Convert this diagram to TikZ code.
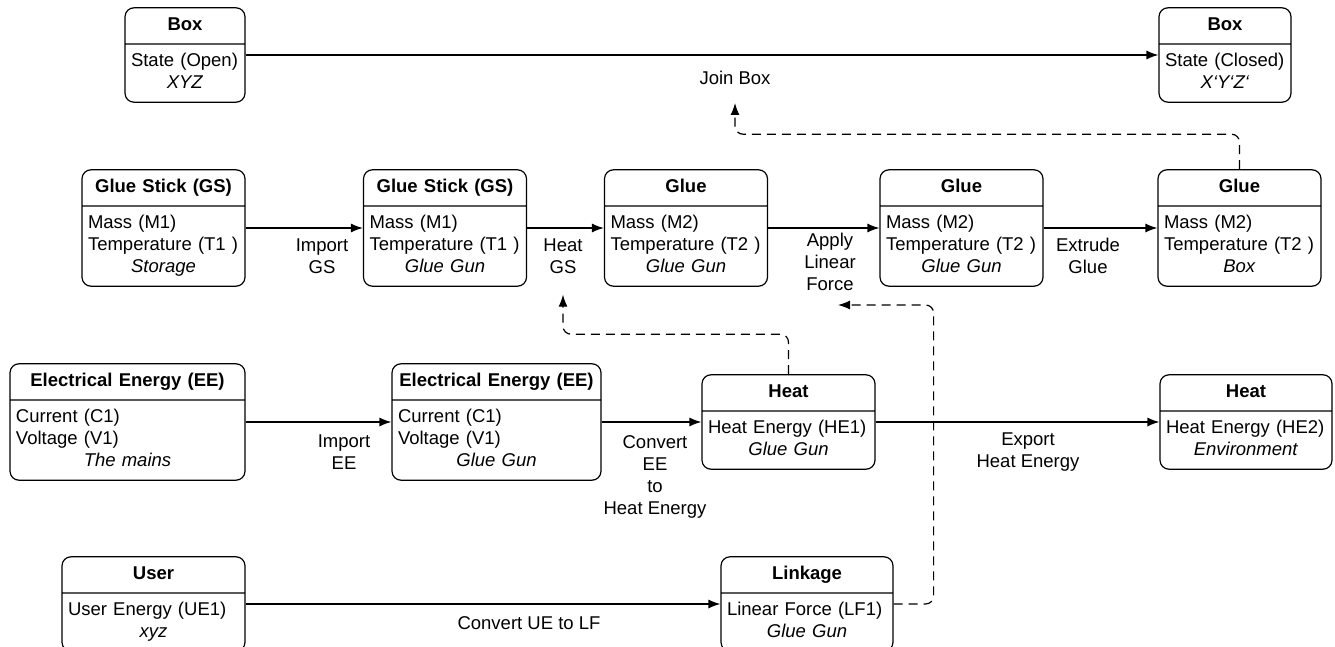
\documentclass[tikz,border=0pt]{standalone}
\usepackage{fontspec}
\setmainfont{Liberation Sans}
\usetikzlibrary{shapes.multipart,arrows.meta}
\newcommand{\stname}[1]{\hfill\strut\textbf{#1}\hfill\null}
\newcommand{\stwhere}[1]{\hfill\strut\textit{#1}\hfill\null}

\begin{document}
\begin{tikzpicture}[x=1pt,y=-1pt,>={Latex[length=12pt,width=9pt]},
  statebox/.style={draw, rectangle split, rectangle split parts=2, rounded corners=9pt, line width=1.2pt, align=left, inner xsep=6pt, inner ysep=6.5pt, font=\fontsize{18.5}{22}\selectfont},
  fnlabel/.style={align=center, inner sep=0pt, font=\fontsize{18.5}{22}\selectfont},
  flow/.style={->, line width=1.2pt},
  cue/.style={->, line width=1.2pt, dash pattern=on 9pt off 6pt, rounded corners=8pt}]
\useasboundingbox (0,0) rectangle (1335,647);

\node[statebox, text width=108pt] (box1) at (185,55) {\stname{Box}\nodepart{two}\strut State (Open)\\\stwhere{XYZ}};
\node[statebox, text width=120pt] (box2) at (1225,55) {\stname{Box}\nodepart{two}\strut State (Closed)\\\stwhere{X`Y`Z`}};

\node[statebox, text width=151pt] (gs1) at (163.5,228) {\stname{Glue Stick (GS)}\nodepart{two}\strut Mass (M1)\\Temperature (T1 )\\\stwhere{Storage}};
\node[statebox, text width=151pt] (gs2) at (445,228) {\stname{Glue Stick (GS)}\nodepart{two}\strut Mass (M1)\\Temperature (T1 )\\\stwhere{Glue Gun}};
\node[statebox, text width=151pt] (glue1) at (686,228) {\stname{Glue}\nodepart{two}\strut Mass (M2)\\Temperature (T2 )\\\stwhere{Glue Gun}};
\node[statebox, text width=151pt] (glue2) at (961.5,228) {\stname{Glue}\nodepart{two}\strut Mass (M2)\\Temperature (T2 )\\\stwhere{Glue Gun}};
\node[statebox, text width=151pt] (glue3) at (1239.5,228) {\stname{Glue}\nodepart{two}\strut Mass (M2)\\Temperature (T2 )\\\stwhere{Box}};

\node[statebox, text width=223pt] (ee1) at (127.5,422) {\stname{Electrical Energy (EE)}\nodepart{two}\strut Current (C1)\\Voltage (V1)\\\stwhere{The mains}};
\node[statebox, text width=197pt] (ee2) at (496.5,422) {\stname{Electrical Energy (EE)}\nodepart{two}\strut Current (C1)\\Voltage (V1)\\\stwhere{Glue Gun}};
\node[statebox, text width=161pt] (heat1) at (788.5,422) {\stname{Heat}\nodepart{two}\strut Heat Energy (HE1)\\\stwhere{Glue Gun}};
\node[statebox, text width=160pt] (heat2) at (1246,422) {\stname{Heat}\nodepart{two}\strut Heat Energy (HE2)\\\stwhere{Environment}};

\node[statebox, text width=171pt] (user) at (153.5,604) {\stname{User}\nodepart{two}\strut User Energy (UE1)\\\stwhere{xyz}};
\node[statebox, text width=160pt] (linkage) at (807,604) {\stname{Linkage}\nodepart{two}\strut Linear Force (LF1)\\\stwhere{Glue Gun}};

\node[fnlabel] (join) at (735,78) {Join Box};
\node[fnlabel] (importgs) at (322,256) {Import\\GS};
\node[fnlabel] (heatgs) at (563,256) {Heat\\GS};
\node[fnlabel] (apply) at (830,262) {Apply\\Linear\\Force};
\node[fnlabel] (extrude) at (1088,256) {Extrude\\Glue};
\node[fnlabel] (importee) at (344,452) {Import\\EE};
\node[fnlabel] (convee) at (655,477) {Convert\\EE\\to\\Heat Energy};
\node[fnlabel] (export) at (1028,452) {Export\\Heat Energy};
\node[fnlabel] (convue) at (529,623) {Convert UE to LF};
\coordinate (lftip) at (838,305);

\draw[flow] (box1) -- (box2);
\draw[flow] (gs1) -- (gs2);
\draw[flow] (gs2) -- (glue1);
\draw[flow] (glue1) -- (glue2);
\draw[flow] (glue2) -- (glue3);
\draw[flow] (ee1) -- (ee2);
\draw[flow] (ee2) -- (heat1);
\draw[flow] (heat1) -- (heat2);
\draw[flow] (user) -- (linkage);

\draw[cue, shorten >=18pt] (glue3.north) -- ++(0,-35) -| (join.south);
\draw[cue, shorten >=21pt] (heat1.north) -- ++(0,-40) -| (heatgs.south);
\draw[cue] (linkage.east) -- ++(40,0) |- (lftip);
\end{tikzpicture}
\end{document}
